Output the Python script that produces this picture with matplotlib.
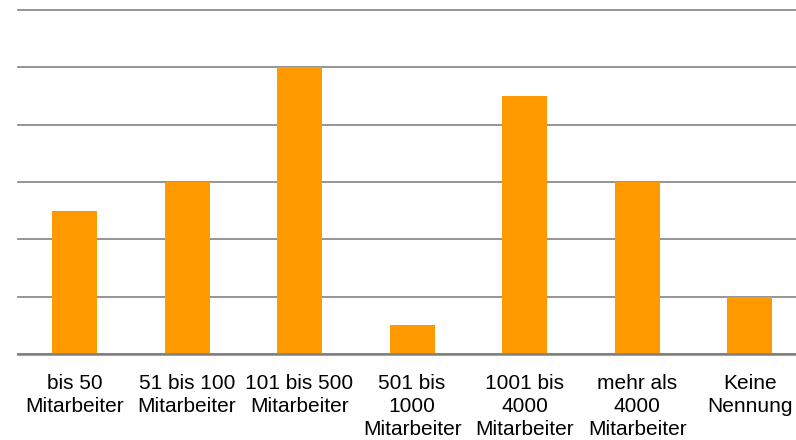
import matplotlib
matplotlib.use("Agg")
import matplotlib.pyplot as plt

categories = ["bis 50\nMitarbeiter", "51 bis 100\nMitarbeiter", "101 bis 500\nMitarbeiter",
              "501 bis\n1000\nMitarbeiter", "1001 bis\n4000\nMitarbeiter",
              "mehr als\n4000\nMitarbeiter", "Keine\nNennung"]
values = [2.5, 3, 5, 0.5, 4.5, 3, 1]
yticks = [0, 1, 2, 3, 4, 5, 6]

plt.rcParams['font.family'] = ['Liberation Sans', 'DejaVu Sans']
W, H = 796, 440
fig = plt.figure(figsize=(W/100, H/100), dpi=100)
left, right = 18.2, 806
top, bottom = 10, 354
ax = fig.add_axes([left/W, 1-bottom/H, (right-left)/W, (bottom-top)/H])
x = list(range(len(categories)))
ax.bar(x, values, width=0.4, color="#FF9900", zorder=3)
ax.set_xlim(-0.5, len(categories)-0.5)
ax.set_ylim(0, 6)
ax.set_yticks(yticks)
ax.yaxis.grid(True, color="#8c8c8c", linewidth=1.3, zorder=0)
for gl in ax.yaxis.get_gridlines():
    gl.set_clip_on(False)
ax.tick_params(axis='y', length=0, labelleft=False)
ax.tick_params(axis='x', length=0, pad=14.5)
ax.set_xticks(x)
ax.set_xticklabels(categories, fontsize=15, linespacing=1.25, va='top')
for s in ['top', 'right', 'left']:
    ax.spines[s].set_visible(False)
ax.spines['bottom'].set_color("#7f7f7f")
ax.spines['bottom'].set_linewidth(1.8)
ax.spines['bottom'].set_zorder(4)
fig.savefig("out.png", dpi=100)
